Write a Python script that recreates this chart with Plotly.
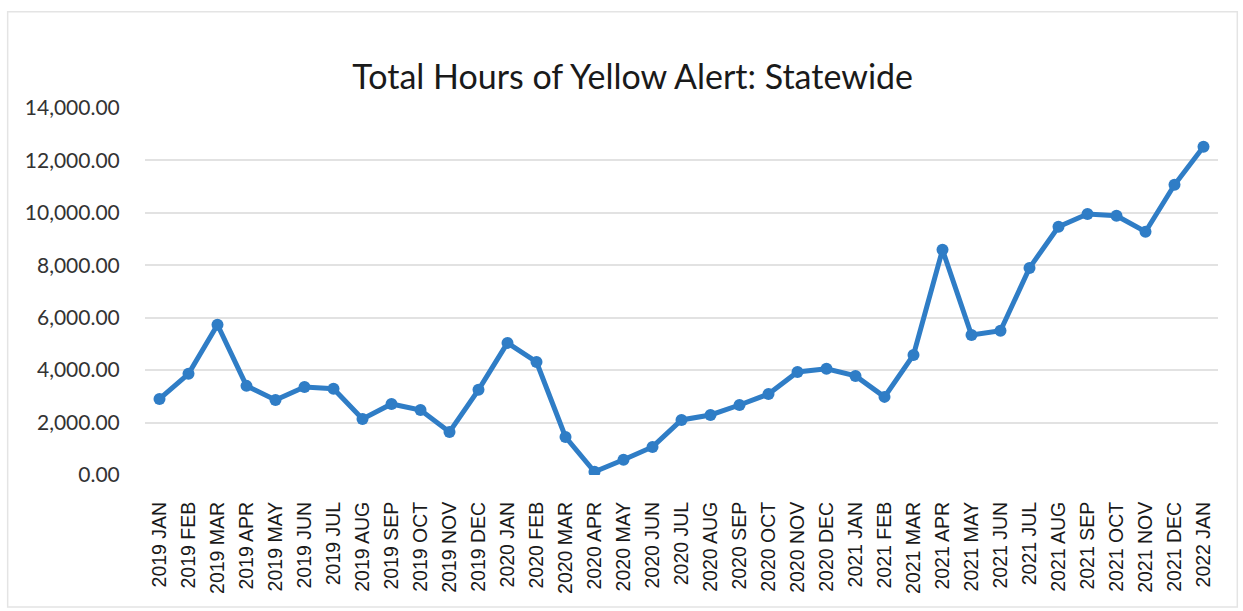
import plotly.graph_objects as go

months = [
    "2019 JAN", "2019 FEB", "2019 MAR", "2019 APR", "2019 MAY", "2019 JUN",
    "2019 JUL", "2019 AUG", "2019 SEP", "2019 OCT", "2019 NOV", "2019 DEC",
    "2020 JAN", "2020 FEB", "2020 MAR", "2020 APR", "2020 MAY", "2020 JUN",
    "2020 JUL", "2020 AUG", "2020 SEP", "2020 OCT", "2020 NOV", "2020 DEC",
    "2021 JAN", "2021 FEB", "2021 MAR", "2021 APR", "2021 MAY", "2021 JUN",
    "2021 JUL", "2021 AUG", "2021 SEP", "2021 OCT", "2021 NOV", "2021 DEC",
    "2022 JAN",
]
hours = [
    2900, 3860, 5730, 3400, 2860, 3360,
    3290, 2140, 2710, 2480, 1640, 3250,
    5040, 4310, 1450, 120, 580, 1070,
    2100, 2290, 2670, 3090, 3930, 4050,
    3780, 2980, 4580, 8590, 5340, 5500,
    7900, 9470, 9960, 9890, 9280, 11070,
    12520,
]
y_ticks = [0, 2000, 4000, 6000, 8000, 10000, 12000, 14000]

line_color = "#2F7DC6"

fig = go.Figure(
    go.Scatter(
        x=months,
        y=hours,
        mode="lines+markers",
        line=dict(color=line_color, width=5),
        marker=dict(color=line_color, size=12),
        hoverinfo="x+y",
    )
)

fig.update_layout(
    width=1243,
    height=611,
    margin=dict(l=145, r=25, t=108, b=136),
    paper_bgcolor="white",
    plot_bgcolor="white",
    showlegend=False,
    title=dict(
        text="Total Hours of Yellow Alert: Statewide",
        x=0.509,
        xanchor="center",
        y=0.874,
        yanchor="middle",
        font=dict(family="Lato", size=34, color="#1a1a1a"),
    ),
    xaxis=dict(
        type="category",
        range=[-0.5, len(months) - 0.5],
        tickangle=-90,
        showgrid=False,
        showline=False,
        zeroline=False,
        ticks="outside",
        ticklen=18,
        tickcolor="rgba(0,0,0,0)",
        tickfont=dict(family="Liberation Sans", size=19.5, color="#1a1a1a"),
    ),
    yaxis=dict(
        range=[0, 14000],
        tickvals=y_ticks,
        tickformat=",.2f",
        showgrid=True,
        gridcolor="#E2E2E2",
        gridwidth=1.5,
        zeroline=False,
        showline=False,
        ticks="outside",
        ticklen=20,
        tickcolor="rgba(0,0,0,0)",
        tickfont=dict(family="Lato", size=21, color="#333333"),
    ),
    shapes=[
        dict(
            type="rect",
            xref="paper", yref="paper",
            x0=-0.128, x1=1.018, y0=-0.36, y1=1.262,
            line=dict(color="#E4E4E4", width=1.5),
            fillcolor="rgba(0,0,0,0)",
            layer="below",
        )
    ],
)

fig.write_html("out.html")
